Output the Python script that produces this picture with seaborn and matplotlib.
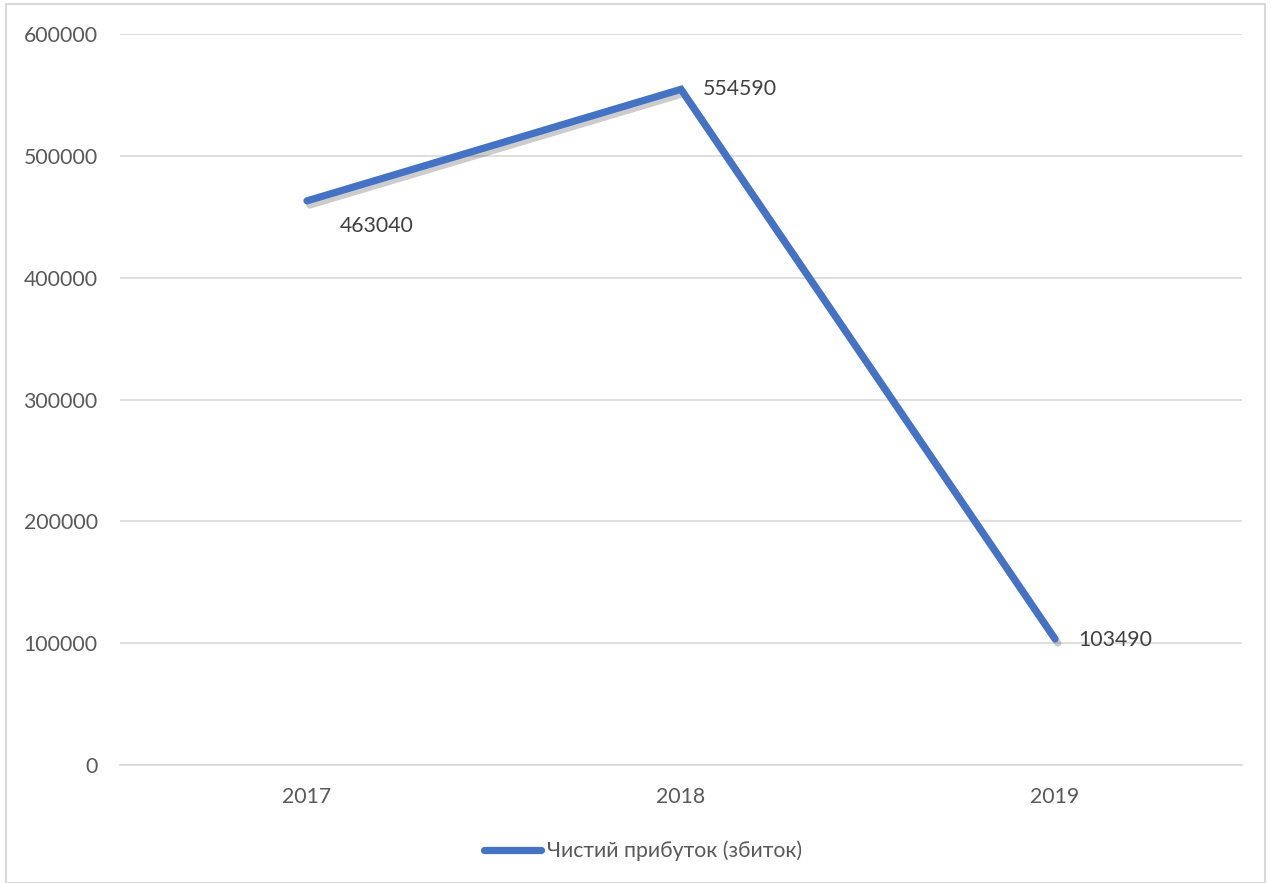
import matplotlib
matplotlib.use("Agg")
import matplotlib.pyplot as plt
import matplotlib.patheffects as pe
import seaborn as sns
import pandas as pd
from matplotlib.patches import Rectangle
from matplotlib.lines import Line2D

years = ["2017", "2018", "2019"]
values = [463040, 554590, 103490]
series_name = "Чистий прибуток (збиток)"
yticks = [0, 100000, 200000, 300000, 400000, 500000, 600000]

sns.set_theme(style="white")
plt.rcParams['font.family'] = ['Lato', 'DejaVu Sans']

df = pd.DataFrame({"year": years, "value": values, "series": series_name})

fig = plt.figure(figsize=(12.71, 8.83), dpi=100)
ax = fig.add_axes([120/1271, 1-765/883, (1242-120)/1271, (765-34)/883])

color = "#4472C4"
text_color = "#595959"
fs = 15.3

sns.lineplot(data=df, x="year", y="value", hue="series", palette=[color],
             linewidth=5.2, sort=False, ax=ax, legend=False,
             path_effects=[pe.SimpleLineShadow(offset=(2, -3), alpha=0.2, shadow_color='black'), pe.Normal()],
             solid_capstyle="round", solid_joinstyle="miter")

ax.set_xlim(-0.5, 2.5)
ax.set_ylim(0, 600000)
ax.set_yticks(yticks)
ax.set_yticklabels([str(t) for t in yticks])
ax.yaxis.grid(True, color="#D9D9D9", linewidth=1.2)
ax.set_axisbelow(True)
for s in ["top", "right", "left"]:
    ax.spines[s].set_visible(False)
ax.spines["bottom"].set_color("#D9D9D9")
ax.spines["bottom"].set_linewidth(1.2)
ax.tick_params(axis="both", length=0, labelsize=fs, labelcolor=text_color)
ax.tick_params(axis="y", pad=16)
ax.tick_params(axis="x", pad=16)
ax.set_xlabel("")
ax.set_ylabel("")

offsets = [(70, -25), (59, 0), (60, -1)]
for i, (v, off) in enumerate(zip(values, offsets)):
    ax.annotate(str(v), xy=(i, v), xytext=off, textcoords="offset pixels",
                ha="center", va="center", fontsize=fs, color="#404040")

h = Line2D([0], [0], color=color, linewidth=5.2, solid_capstyle="round")
fig.legend([h], [series_name], loc="center", bbox_to_anchor=(643/1271, 1-851/883),
           frameon=False, fontsize=fs, labelcolor=text_color,
           handlelength=2.7, handletextpad=0.25)

fig.patches.append(Rectangle((6/1271, 0), 1259/1271, 1-4/883, transform=fig.transFigure,
                             fill=False, edgecolor="#D9D9D9", linewidth=1.5))

fig.savefig("out.png", dpi=100, facecolor="white")
